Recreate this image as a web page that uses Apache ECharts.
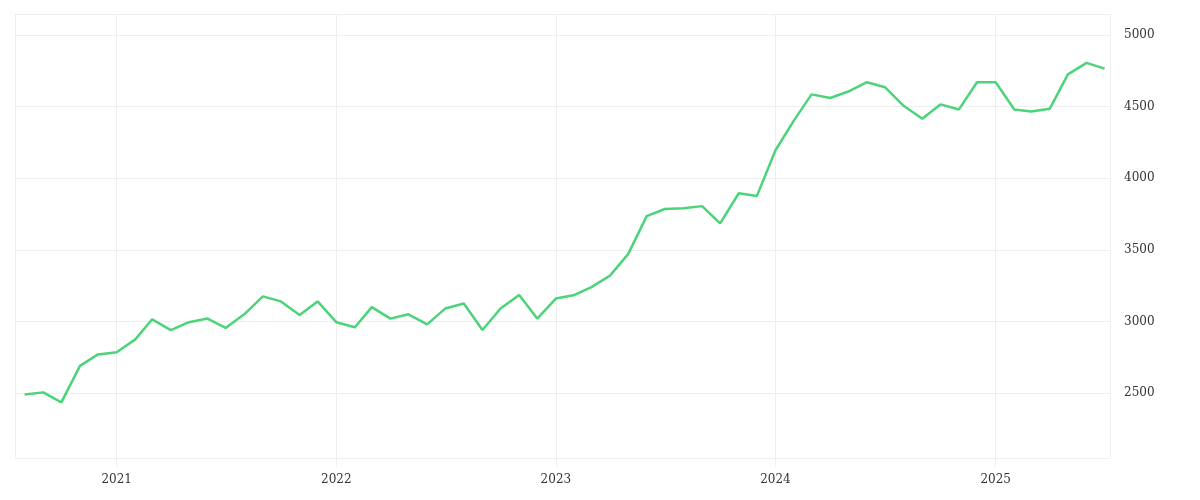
<!DOCTYPE html><html><head><meta charset="utf-8"><script src="https://cdn.jsdelivr.net/npm/echarts@6/dist/echarts.min.js"></script></head><body style="margin:0"><div id="c" style="width:1200px;height:500px"></div><script>
const startYear = 2020, startMonth = 8;
const values = [2490,2505,2435,2690,2770,2785,2875,3015,2940,2995,3020,2955,3050,3175,3140,3045,3140,2995,2960,3100,3020,3050,2980,3090,3125,2940,3090,3185,3020,3160,3185,3240,3320,3470,3735,3785,3790,3805,3685,3895,3875,4195,4405,4585,4560,4605,4670,4635,4505,4415,4515,4480,4670,4670,4480,4465,4485,4725,4805,4765];
const data = values.map((v,i)=>{const m=startMonth-1+i;return [Date.UTC(startYear+Math.floor(m/12),m%12,1),v];});
const font = 'DejaVu Serif';
const c = echarts.init(document.getElementById('c'));
c.setOption({
  animation:false,
  grid:{left:15,right:90,top:14,bottom:42},
  xAxis:{type:'time',min:Date.UTC(2020,6,16),max:Date.UTC(2025,6,10),
    splitNumber:5,
    axisLine:{show:false},axisTick:{show:true,length:9,lineStyle:{color:'#eee'}},
    splitLine:{show:true,lineStyle:{color:'#eee'}},
    axisLabel:{color:'#333',fontFamily:font,fontSize:12,margin:16,formatter:v=>String(new Date(v).getUTCFullYear())}},
  yAxis:{type:'value',position:'right',min:2047,max:5146,splitNumber:6,
    axisLine:{show:true,lineStyle:{color:'#eee'}},axisTick:{show:false},
    splitLine:{lineStyle:{color:'#eee'}},
    axisLabel:{color:'#333',fontFamily:font,fontSize:12,margin:14,showMinLabel:false,showMaxLabel:false,
      formatter:v=>(v%500===0?String(v):'')}},
  series:[{type:'line',data:data,showSymbol:false,lineStyle:{color:'#4cd47a',width:2.5},itemStyle:{color:'#4cd47a'}}]
});
</script></body></html>
